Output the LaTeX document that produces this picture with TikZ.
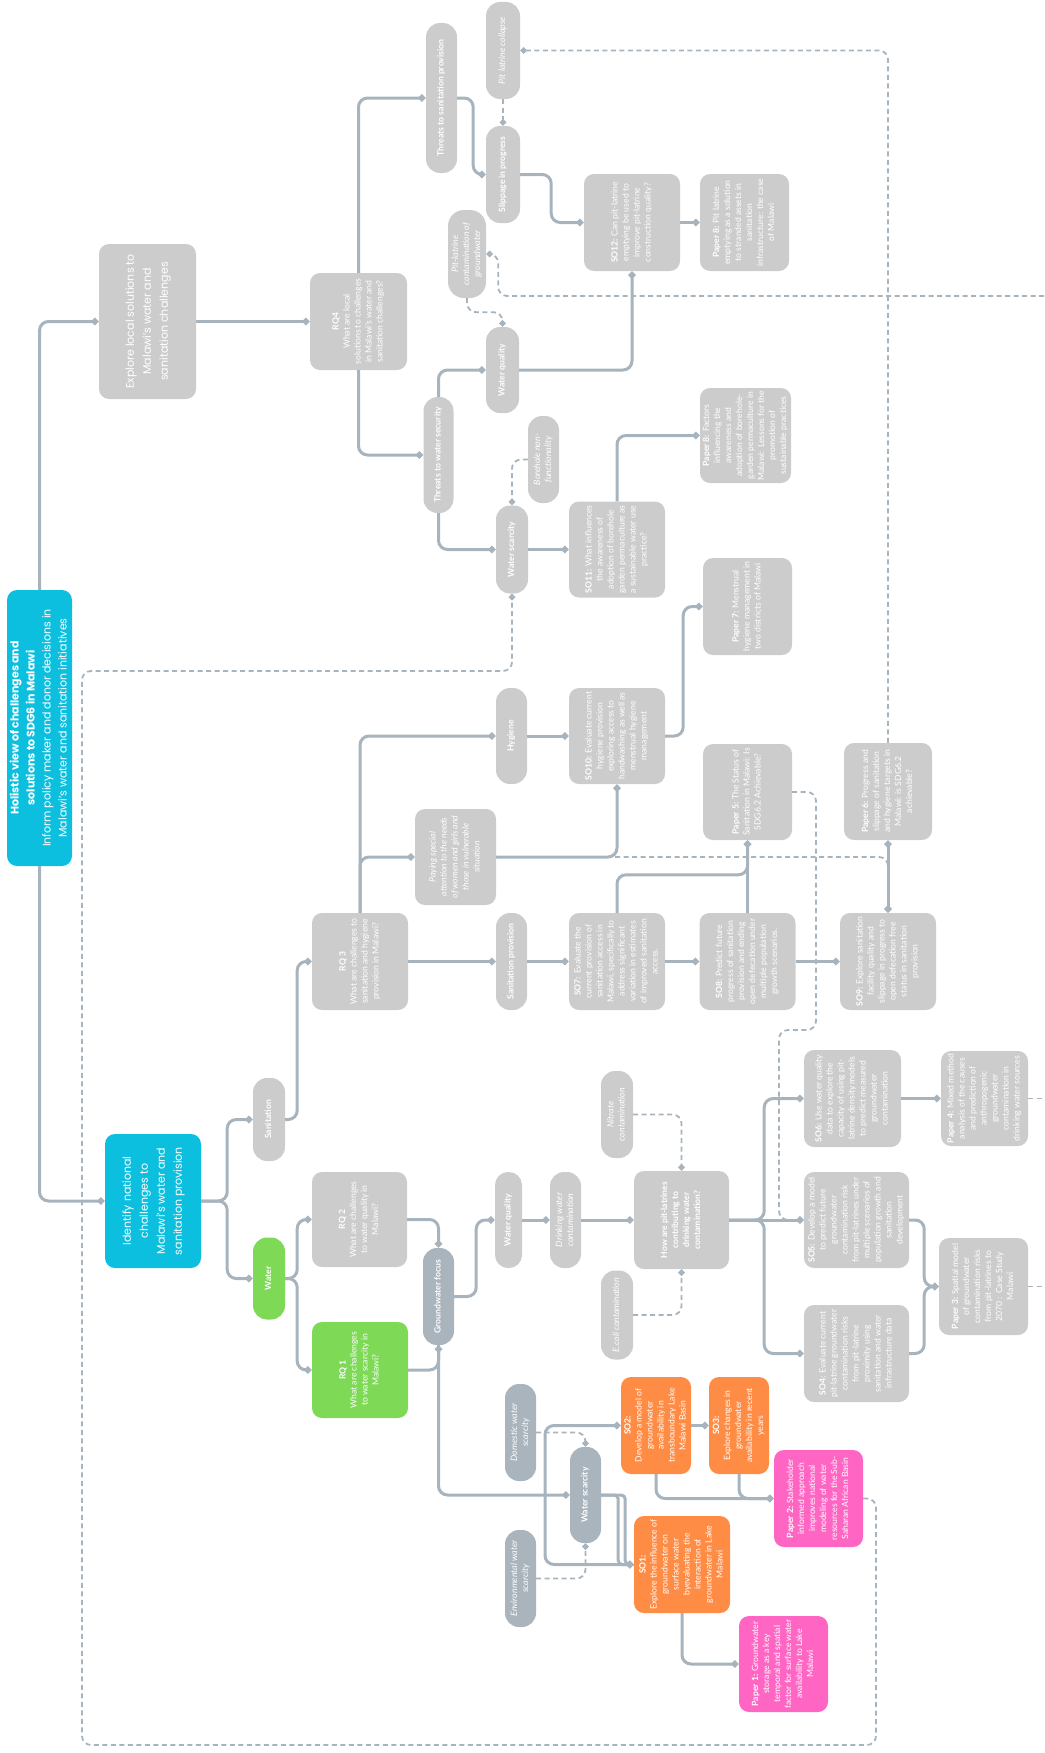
\documentclass[tikz,border=0pt]{standalone}
\usepackage{fontspec}
\setmainfont{Lato}
\newfontfamily\bigfont{Poppins}
\usepackage{graphicx}
\usetikzlibrary{arrows.meta}
\definecolor{boxgrey}{HTML}{CCCCCC}
\definecolor{darkpill}{HTML}{A9B4BD}
\definecolor{linec}{HTML}{A7B4BE}
\definecolor{cyanb}{HTML}{0DBFDF}
\definecolor{greenb}{HTML}{7ED957}
\definecolor{orangeb}{HTML}{FF8C45}
\definecolor{pinkb}{HTML}{FF66C4}
\newcommand{\rt}[1]{\rotatebox{90}{\begin{tabular}{@{}c@{}}#1\end{tabular}}}
\tikzset{
  BoxStyle/.style = { rectangle, rounded corners=10pt, fill=boxgrey,
                      text=white, inner sep=0pt,
                      font=\fontsize{8.6}{11}\selectfont },
  Size/.style 2 args = { minimum width=#1pt, minimum height=#2pt },
  PillStyle/.style = { BoxStyle, rounded corners=14pt,
                       font=\fontsize{8.6}{10}\selectfont\bfseries },
  NotePill/.style = { BoxStyle, rounded corners=14pt,
                      font=\fontsize{8.8}{11}\selectfont\itshape },
  NoteBox/.style = { BoxStyle, font=\fontsize{8.6}{11}\selectfont\itshape },
  AimStyle/.style = { BoxStyle, fill=cyanb,
                      font=\bigfont\fontsize{11}{17}\selectfont },
  >={Kite[length=8pt,width=8pt,inset=4pt]},
  EdgeStyle/.style = { draw=linec, line width=3pt, rounded corners=9pt, -> },
  LinkStyle/.style = { draw=linec, line width=1.8pt, rounded corners=9pt,
                       dash pattern=on 5pt off 3.5pt,
                       -{Kite[length=7pt,width=7pt,inset=3.5pt]} }
}
\begin{document}
\begin{tikzpicture}[x=1pt, y=-1pt]
  \useasboundingbox (0,0) rectangle (1044,1753);

  \node[AimStyle, Size={65}{276}, font=\bigfont\fontsize{11}{16}\selectfont](ROOT) at (39.5,728)
    {\rt{\textbf{Holistic view of challenges and}\\\textbf{solutions to SDG6 in Malawi}\\Inform policy maker and donor decisions in\\Malawi’s water and sanitation initiatives}};
  \node[AimStyle, Size={97}{155}, fill=boxgrey](EXPLORE) at (147.5,321.5)
    {\rt{Explore local solutions to\\Malawi’s water and\\sanitation challenges}};
  \node[AimStyle, Size={96}{134}](IDENT) at (153,1201)
    {\rt{Identify national\\challenges to\\Malawi’s water and\\sanitation provision}};

  \node[BoxStyle, Size={97}{97}](RQ4) at (358.5,321.5)
    {\rt{\textbf{RQ4}\\What are local\\solutions to challenges\\in Malawi’s water and\\sanitation challenges?}};
  \node[PillStyle, Size={31}{150}](THRSAN) at (441.5,98) {\rt{Threats to sanitation provision}};
  \node[NotePill, Size={34}{97}](PITCOL) at (503,50.5) {\rt{Pit latrine collapse}};
  \node[PillStyle, Size={34}{97}](SLIP) at (503,174.5) {\rt{Slippage in progress}};
  \node[BoxStyle, Size={96}{97}](SO12) at (632,222.5)
    {\rt{\textbf{SO12:} Can pit-latrine\\emptying be used to\\improve pit-latrine\\construction quality?}};
  \node[BoxStyle, Size={89}{97}](P8A) at (744.5,222.5)
    {\rt{\textbf{Paper 8:} Pit latrine\\emptying as a solution\\to stranded assets in\\sanitation\\infrastructure: the case\\of Malawi}};
  \node[NotePill, Size={38}{88}, rounded corners=16pt](PITCON) at (467,254)
    {\rt{Pit-latrine\\contamination of\\groundwater}};
  \node[PillStyle, Size={33}{86}](WQA) at (502.5,370) {\rt{Water quality}};
  \node[PillStyle, Size={30}{116}](THRWAT) at (438.5,455) {\rt{Threats to water security}};
  \node[NotePill, Size={31}{87}](BORE) at (543.5,459.5) {\rt{Borehole non-\\functionality}};
  \node[PillStyle, Size={32}{88}](WSA) at (512,549.5) {\rt{Water scarcity}};
  \node[BoxStyle, Size={96}{96}](SO11) at (617,549.5)
    {\rt{\textbf{SO11:} What influences\\the awareness of\\adoption of borehole\\garden permaculture as\\a sustainable water use\\practice?}};
  \node[BoxStyle, Size={91}{95}](P8B) at (745.5,435.5)
    {\rt{\textbf{Paper 8:} Factors\\influencing the\\awareness and\\adoption of borehole-\\garden permaculture in\\Malawi: Lessons for the\\promotion of\\sustainable practices}};

  \node[PillStyle, Size={31}{96}](HYG) at (511.5,736) {\rt{Hygiene}};
  \node[BoxStyle, Size={96}{96}](SO10) at (617,736)
    {\rt{\textbf{SO10:} Evaluate current\\hygiene provision\\exploring access to\\handwashing as well as\\menstrual hygiene\\management}};
  \node[BoxStyle, Size={89}{97}](P7) at (747.5,606.5)
    {\rt{\textbf{Paper 7:} Menstrual\\hygiene management in\\two districts of Malawi}};
  \node[NoteBox, Size={81}{96}](PAY) at (455.5,857)
    {\rt{Paying special\\attention to the needs\\of women and girls and\\those in vulnerable\\situation}};
  \node[BoxStyle, Size={96}{97}](RQ3) at (360,961.5)
    {\rt{\textbf{RQ 3}\\What are challenges to\\sanitation and hygiene\\provision in Malawi?}};
  \node[PillStyle, Size={31}{97}](SANPROV) at (511.5,961.5) {\rt{Sanitation provision}};
  \node[BoxStyle, Size={96}{97}](SO7) at (617,961.5)
    {\rt{\textbf{SO7:} Evaluate the\\current provision of\\sanitation access in\\Malawi, specifically to\\address significant\\variation in estimates\\of improved sanitation\\access.}};
  \node[BoxStyle, Size={96}{97}](SO8) at (747.5,961.5)
    {\rt{\textbf{SO8:} Predict future\\progress of sanitation\\provision and ending\\open defecation under\\multiple population\\growth scenarios.}};
  \node[BoxStyle, Size={96}{97}](SO9) at (888,961.5)
    {\rt{\textbf{SO9:} Explore sanitation\\facility quality and\\slippage in progress to\\open defecation free\\status in sanitation\\provision}};
  \node[BoxStyle, Size={89}{96}](P5) at (747.5,792)
    {\rt{\textbf{Paper 5:} The Status of\\Sanitation in Malawi: Is\\SDG6.2 Achievable?}};
  \node[BoxStyle, Size={88}{97}](P6) at (888,791.5)
    {\rt{\textbf{Paper 6:} Progress and\\slippage of sanitation\\and hygiene targets in\\Malawi: is SDG6.2\\achievable?}};

  \node[PillStyle, Size={32}{83}](SAN) at (269,1119.5) {\rt{Sanitation}};
  \node[PillStyle, Size={32}{82}, fill=greenb](WATER) at (269,1278.5) {\rt{Water}};
  \node[BoxStyle, Size={95}{95}](RQ2) at (359.5,1219.5)
    {\rt{\textbf{RQ 2}\\What are challenges\\to water quality in\\Malawi?}};
  \node[BoxStyle, Size={96}{96}, fill=greenb](RQ1) at (360,1370)
    {\rt{\textbf{RQ 1}\\What are challenges\\to water scarcity in\\Malawi?}};
  \node[PillStyle, Size={31}{97}, fill=darkpill](GW) at (438.5,1296.5) {\rt{Groundwater focus}};
  \node[PillStyle, Size={27}{96}, rounded corners=13pt](WQB) at (508.5,1220) {\rt{Water quality}};
  \node[NotePill, Size={31}{96}](DWC) at (565.5,1220) {\rt{Drinking water\\contamination}};
  \node[NotePill, Size={32}{87}](NIT) at (617,1114.5) {\rt{Nitrate\\contamination}};
  \node[NotePill, Size={32}{89}](ECO) at (617,1315) {\rt{E.coli contamination}};
  \node[BoxStyle, Size={95}{98}, font=\fontsize{8.6}{11}\selectfont\bfseries](HOW) at (681.5,1220)
    {\rt{How are pit-latrines\\contributing to\\drinking water\\contamination?}};
  \node[BoxStyle, Size={97}{97}](SO6) at (852.5,1098.5)
    {\rt{\textbf{SO6:} Use water quality\\data to explore the\\capacity of using pit-\\latrine density models\\to predict measured\\groundwater\\contamination}};
  \node[BoxStyle, Size={87}{95}](P4) at (984.5,1098.5)
    {\rt{\textbf{Paper 4:} Mixed method\\analysis of the causes\\and prediction of\\anthropogenic\\groundwater\\contamination in\\drinking water sources}};
  \node[BoxStyle, Size={105}{96}](SO5) at (856.5,1220)
    {\rt{\textbf{SO5:} Develop a model\\to predict future\\groundwater\\contamination risk\\from pit-latrines under\\multiple scenarios of\\population growth and\\sanitation\\development}};
  \node[BoxStyle, Size={89}{97}](P3) at (983.5,1286.5)
    {\rt{\textbf{Paper 3:} Spatial model\\of groundwater\\contamination risks\\from pit-latrines to\\2070 : Case Study\\Malawi}};
  \node[BoxStyle, Size={105}{97}](SO4) at (856.5,1353.5)
    {\rt{\textbf{SO4:} Evaluate current\\pit-latrine groundwater\\contamination risks\\from pit-latrine\\proximity using\\sanitation and water\\infrastructure data}};

  \node[NotePill, Size={31}{97}, fill=darkpill](DOM) at (520.5,1432.5) {\rt{Domestic water\\scarcity}};
  \node[NotePill, Size={31}{97}, fill=darkpill](ENV) at (520.5,1578.5) {\rt{Environmental water\\scarcity}};
  \node[PillStyle, Size={31}{96}, fill=darkpill](WSB) at (585.5,1495) {\rt{Water scarcity}};
  \node[BoxStyle, Size={70}{97}, fill=orangeb](SO2) at (656,1425.5)
    {\rt{\textbf{SO2:}\\Develop a model of\\groundwater\\availability in\\transboundary Lake\\Malawi Basin}};
  \node[BoxStyle, Size={60}{97}, fill=orangeb](SO3) at (739,1425.5)
    {\rt{\textbf{SO3:}\\Explore changes in\\groundwater\\availability in recent\\years}};
  \node[BoxStyle, Size={96}{97}, fill=orangeb](SO1) at (682,1564.5)
    {\rt{\textbf{SO1:}\\Explore the influence of\\groundwater on\\surface water\\byevaluating the\\interaction of\\groundwater in Lake\\Malawi}};
  \node[BoxStyle, Size={89}{97}, fill=pinkb](P2) at (818.5,1498.5)
    {\rt{\textbf{Paper 2:} Stakeholder\\informed approach\\improves national\\modeling of water\\resources for the Sub-\\Saharan African Basin}};
  \node[BoxStyle, Size={89}{96}, fill=pinkb](P1) at (783.5,1664)
    {\rt{\textbf{Paper 1:} Groundwater\\storage as a key\\temporal and spatial\\factor for surface water\\availability to Lake\\Malawi}};

  \coordinate (SPLIT) at (545,1495);
  \coordinate (EDGEA) at (1044,296);
  \coordinate (EDGEB) at (1044,1098.5);
  \coordinate (EDGEC) at (1044,1286.5);

  \draw[EdgeStyle] (ROOT.north) |- (EXPLORE.west);
  \draw[EdgeStyle] (ROOT.south) |- (IDENT.west);
  \draw[EdgeStyle] (EXPLORE.east) -- (RQ4.west);
  \draw[EdgeStyle] (RQ4.north) |- (THRSAN.west);
  \draw[EdgeStyle] (RQ4.south) |- (THRWAT.west);
  \draw[EdgeStyle] (THRSAN.east) -- ++(16,0) |- (SLIP.west);
  \draw[EdgeStyle] (SLIP.east) -- ++(31,0) |- (SO12.west);
  \draw[EdgeStyle] (SO12.east) -- (P8A.west);
  \draw[EdgeStyle] (THRWAT.north) |- (WQA.west);
  \draw[EdgeStyle] (WQA.east) -| (SO12.south);
  \draw[EdgeStyle] (THRWAT.south) |- (WSA.west);
  \draw[EdgeStyle] (WSA.east) -- (SO11.west);
  \draw[EdgeStyle] (SO11.north) |- (P8B.west);

  \draw[EdgeStyle] (IDENT.east) -- ++(26,0) |- (SAN.west);
  \draw[EdgeStyle] (IDENT.east) -- ++(26,0) |- (WATER.west);
  \draw[EdgeStyle] (SAN.east) -- ++(12,0) |- (RQ3.west);
  \draw[EdgeStyle] (RQ3.north) |- (HYG.west);
  \draw[EdgeStyle] (RQ3.north) |- (PAY.west);
  \draw[EdgeStyle] (HYG.east) -- (SO10.west);
  \draw[EdgeStyle] (PAY.east) -| (SO10.south);
  \draw[EdgeStyle] (SO10.east) -- ++(18,0) |- (P7.west);
  \draw[EdgeStyle] (RQ3.east) -- (SANPROV.west);
  \draw[EdgeStyle] (SANPROV.east) -- (SO7.west);
  \draw[EdgeStyle] (SO7.east) -- (SO8.west);
  \draw[EdgeStyle] (SO8.east) -- (SO9.west);
  \draw[EdgeStyle] (SO7.north) -- ++(0,-38) -| (P5.south);
  \draw[EdgeStyle] (SO8.north) -- (P5.south);
  \draw[EdgeStyle, <->] (SO9.north) -- (P6.south);

  \draw[EdgeStyle] (WATER.east) -- ++(12,0) |- (RQ2.west);
  \draw[EdgeStyle] (WATER.east) -- ++(12,0) |- (RQ1.west);
  \draw[EdgeStyle] (RQ2.east) -| (GW.north);
  \draw[EdgeStyle] (RQ1.east) -| (GW.south);
  \draw[EdgeStyle] (GW.east) -- ++(22,0) |- (WQB.west);
  \draw[EdgeStyle] (WQB.east) -- (DWC.west);
  \draw[EdgeStyle] (DWC.east) -- (HOW.west);
  \draw[EdgeStyle] (HOW.east) -- ++(35,0) |- (SO6.west);
  \draw[EdgeStyle] (HOW.east) -- (SO5.west);
  \draw[EdgeStyle] (HOW.east) -- ++(35,0) |- (SO4.west);
  \draw[EdgeStyle] (SO6.east) -- (P4.west);
  \draw[EdgeStyle] (SO5.east) -- ++(15,0) |- (P3.west);
  \draw[EdgeStyle] (SO4.east) -- ++(15,0) |- (P3.west);

  \draw[EdgeStyle] (GW.south) |- (WSB.west);
  \draw[EdgeStyle] (SPLIT) |- (SO2.west);
  \draw[EdgeStyle] (SPLIT) |- (SO1.west);
  \draw[EdgeStyle, rounded corners=4pt] (WSB.east) -- ++(17,0) |- (SO1.west);
  \draw[EdgeStyle, rounded corners=4pt] (WSB.east) -- ++(24,0) |- (SO1.west);
  \draw[EdgeStyle] (SO2.east) -- (SO3.west);
  \draw[EdgeStyle] (SO2.south) |- (P2.west);
  \draw[EdgeStyle] (SO3.south) |- (P2.west);
  \draw[EdgeStyle] (SO1.south) |- (P1.west);

  \draw[LinkStyle] (PITCOL.south) -- (SLIP.north);
  \draw[LinkStyle] (P6.north) |- (PITCOL.east);
  \draw[LinkStyle] (EDGEA) -| ([xshift=12pt]PITCON.east) -- (PITCON.east);
  \draw[LinkStyle] (PITCON.south) -- ++(0,14) -| (WQA.north);
  \draw[LinkStyle] (BORE.west) -| (WSA.north);
  \draw[LinkStyle] (PAY.east) -| (SO9.north);
  \draw[LinkStyle] (P5.east) -| (816,1030) -| (779,1220) -- (SO5.west);
  \draw[LinkStyle] (NIT.east) -| (HOW.north);
  \draw[LinkStyle] (ECO.east) -| (HOW.south);
  \draw[LinkStyle, -] (P4.east) -- (EDGEB);
  \draw[LinkStyle, -] (P3.east) -- (EDGEC);
  \draw[LinkStyle] (DOM.east) -| (WSB.north);
  \draw[LinkStyle] (ENV.east) -| (WSB.south);
  \draw[LinkStyle] (P2.east) -| (876,1745) -| (82,671) -| (WSA.south);
\end{tikzpicture}
\end{document}
